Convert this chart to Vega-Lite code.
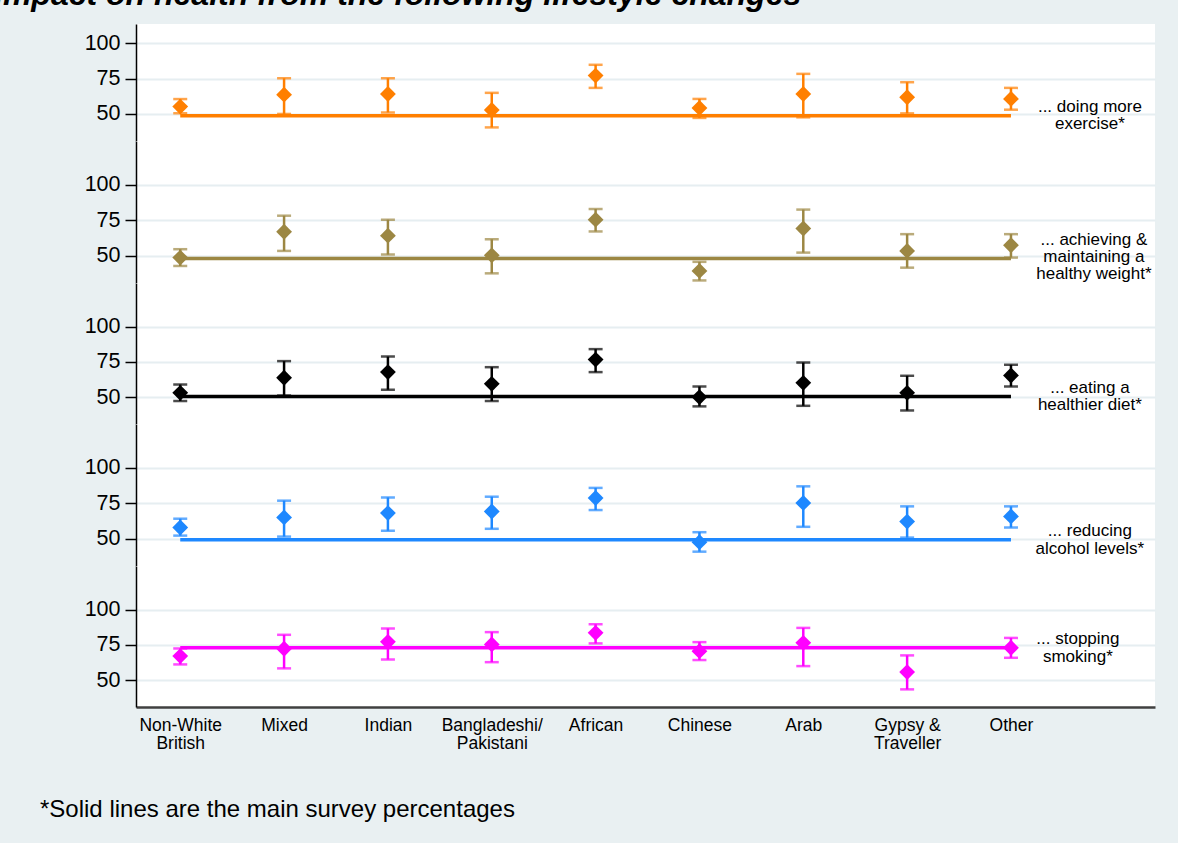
{
"$schema": "https://vega.github.io/schema/vega-lite/v6.json",
"background": "#e9f0f2",
"padding": {"left": -6, "top": -21, "right": 40, "bottom": 60},
"title": {"text": "Impact on health from the following lifestyle changes", "anchor": "start", "frame": "group", "dx": -142, "dy": 34, "offset": 21, "baseline": "alphabetic", "font": "Liberation Sans", "fontSize": 32, "fontWeight": "bold", "fontStyle": "italic", "color": "#000000"},
"spacing": 0,
"bounds": "flush",
"datasets": {
"pts": [
{"m":"ex","cat":1,"v":55.2,"lo":50.5,"hi":60.5},
{"m":"ex","cat":2,"v":63.6,"lo":50,"hi":75.2},
{"m":"ex","cat":3,"v":64.1,"lo":51.1,"hi":75.2},
{"m":"ex","cat":4,"v":52.8,"lo":40.5,"hi":64.9},
{"m":"ex","cat":5,"v":77.1,"lo":68.4,"hi":84.7},
{"m":"ex","cat":6,"v":54.2,"lo":47.2,"hi":60.6},
{"m":"ex","cat":7,"v":64.1,"lo":47.6,"hi":78.3},
{"m":"ex","cat":8,"v":61.8,"lo":50.4,"hi":72.4},
{"m":"ex","cat":9,"v":60.6,"lo":53,"hi":68.4},
{"m":"wt","cat":1,"v":48.8,"lo":42.9,"hi":54.7},
{"m":"wt","cat":2,"v":67,"lo":53.5,"hi":78.3},
{"m":"wt","cat":3,"v":64.2,"lo":50.9,"hi":75.5},
{"m":"wt","cat":4,"v":50.4,"lo":37.7,"hi":61.7},
{"m":"wt","cat":5,"v":75.5,"lo":67.2,"hi":83},
{"m":"wt","cat":6,"v":39.4,"lo":32.7,"hi":45.8},
{"m":"wt","cat":7,"v":69.3,"lo":52.3,"hi":82.6},
{"m":"wt","cat":8,"v":53.5,"lo":41.7,"hi":65.3},
{"m":"wt","cat":9,"v":57.5,"lo":48.8,"hi":65.3},
{"m":"diet","cat":1,"v":53,"lo":47.2,"hi":58.9},
{"m":"diet","cat":2,"v":63.7,"lo":51.1,"hi":75.5},
{"m":"diet","cat":3,"v":67.7,"lo":55.2,"hi":78.7},
{"m":"diet","cat":4,"v":59.4,"lo":47.2,"hi":71.2},
{"m":"diet","cat":5,"v":76.6,"lo":67.7,"hi":84},
{"m":"diet","cat":6,"v":50,"lo":43.4,"hi":57.5},
{"m":"diet","cat":7,"v":60.1,"lo":43.8,"hi":74.5},
{"m":"diet","cat":8,"v":53,"lo":40.5,"hi":65.1},
{"m":"diet","cat":9,"v":65.3,"lo":57.5,"hi":72.9},
{"m":"alc","cat":1,"v":58,"lo":52.3,"hi":64.2},
{"m":"alc","cat":2,"v":65.1,"lo":51.6,"hi":76.9},
{"m":"alc","cat":3,"v":68.2,"lo":55.7,"hi":79.2},
{"m":"alc","cat":4,"v":69.3,"lo":57.1,"hi":79.7},
{"m":"alc","cat":5,"v":78.8,"lo":70.3,"hi":85.9},
{"m":"alc","cat":6,"v":47.7,"lo":41,"hi":54.7},
{"m":"alc","cat":7,"v":75.3,"lo":58.5,"hi":87},
{"m":"alc","cat":8,"v":62.2,"lo":50.9,"hi":72.9},
{"m":"alc","cat":9,"v":65.8,"lo":58,"hi":72.9},
{"m":"smk","cat":1,"v":67,"lo":61.1,"hi":72.4},
{"m":"smk","cat":2,"v":72.2,"lo":58.3,"hi":82.1},
{"m":"smk","cat":3,"v":77.1,"lo":64.6,"hi":86.6},
{"m":"smk","cat":4,"v":75.3,"lo":62.7,"hi":84},
{"m":"smk","cat":5,"v":83.5,"lo":76,"hi":89.6},
{"m":"smk","cat":6,"v":70.5,"lo":64.2,"hi":76.9},
{"m":"smk","cat":7,"v":76.4,"lo":59.9,"hi":87},
{"m":"smk","cat":8,"v":55.7,"lo":43.4,"hi":67.5},
{"m":"smk","cat":9,"v":72.9,"lo":65.8,"hi":79.9}
],
"base": [
{"m":"ex","pct":48.8,"label":"... doing more|exercise*"},
{"m":"wt","pct":48.1,"label":"... achieving &|maintaining a|healthy weight*"},
{"m":"diet","pct":50.4,"label":"... eating a|healthier diet*"},
{"m":"alc","pct":49.3,"label":"... reducing|alcohol levels*"},
{"m":"smk","pct":72.9,"label":"... stopping|smoking*"}
]
},
"vconcat": [
{
"width": 1019, "height": 117,
"layer": [
{"data":{"name":"base"},"transform":[{"filter":"datum.m === 'ex'"}],"mark":{"type":"rule","color":"#ff7f00","strokeWidth":3.5},
"encoding":{"x":{"datum":1,"type":"quantitative","scale":{"domain":[0.574,10.387],"nice":false,"zero":false},"axis":null},"x2":{"datum":9},"y":{"field":"pct","type":"quantitative","scale":{"domain":[30.9,113.5],"nice":false,"zero":false},"axis":{"values":[50,75,100],"title":null}}}},
{"data":{"name":"pts"},"transform":[{"filter":"datum.m === 'ex'"}],"mark":{"type":"errorbar","color":"#ff7f00","ticks":{"size":14,"thickness":2.5,"color":"#ff7f00"},"rule":{"strokeWidth":2.5,"color":"#ff7f00"}},
"encoding":{"x":{"field":"cat","type":"quantitative","scale":{"domain":[0.574,10.387],"nice":false,"zero":false},"axis":null},"y":{"field":"lo","type":"quantitative","scale":{"domain":[30.9,113.5],"nice":false,"zero":false},"axis":{"values":[50,75,100],"title":null}},"y2":{"field":"hi"}}},
{"data":{"name":"pts"},"transform":[{"filter":"datum.m === 'ex'"}],"mark":{"type":"point","shape":"diamond","filled":true,"size":250,"opacity":1,"color":"#ff7f00"},
"encoding":{"x":{"field":"cat","type":"quantitative","scale":{"domain":[0.574,10.387],"nice":false,"zero":false},"axis":null},"y":{"field":"v","type":"quantitative","scale":{"domain":[30.9,113.5],"nice":false,"zero":false},"axis":{"values":[50,75,100],"title":null}}}},
{"data":{"name":"base"},"transform":[{"filter":"datum.m === 'ex'"}],"mark":{"type":"text","lineBreak":"|","align":"center","baseline":"middle","dy":-8.75,"font":"Liberation Sans","fontSize":17,"lineHeight":17.5,"color":"#000000"},
"encoding":{"x":{"datum":9.76,"type":"quantitative","scale":{"domain":[0.574,10.387],"nice":false,"zero":false},"axis":null},"y":{"field":"pct","type":"quantitative","scale":{"domain":[30.9,113.5],"nice":false,"zero":false},"axis":{"values":[50,75,100],"title":null}},"text":{"field":"label","type":"nominal"}}}
]
},
{
"width": 1019, "height": 142,
"layer": [
{"data":{"name":"base"},"transform":[{"filter":"datum.m === 'wt'"}],"mark":{"type":"rule","color":"#9c8743","strokeWidth":3.5},
"encoding":{"x":{"datum":1,"type":"quantitative","scale":{"domain":[0.574,10.387],"nice":false,"zero":false},"axis":null},"x2":{"datum":9},"y":{"field":"pct","type":"quantitative","scale":{"domain":[30.9,130.9],"nice":false,"zero":false},"axis":{"values":[50,75,100],"title":null}}}},
{"data":{"name":"pts"},"transform":[{"filter":"datum.m === 'wt'"}],"mark":{"type":"errorbar","color":"#9c8743","ticks":{"size":14,"thickness":2.5,"color":"#9c8743"},"rule":{"strokeWidth":2.5,"color":"#9c8743"}},
"encoding":{"x":{"field":"cat","type":"quantitative","scale":{"domain":[0.574,10.387],"nice":false,"zero":false},"axis":null},"y":{"field":"lo","type":"quantitative","scale":{"domain":[30.9,130.9],"nice":false,"zero":false},"axis":{"values":[50,75,100],"title":null}},"y2":{"field":"hi"}}},
{"data":{"name":"pts"},"transform":[{"filter":"datum.m === 'wt'"}],"mark":{"type":"point","shape":"diamond","filled":true,"size":250,"opacity":1,"color":"#9c8743"},
"encoding":{"x":{"field":"cat","type":"quantitative","scale":{"domain":[0.574,10.387],"nice":false,"zero":false},"axis":null},"y":{"field":"v","type":"quantitative","scale":{"domain":[30.9,130.9],"nice":false,"zero":false},"axis":{"values":[50,75,100],"title":null}}}},
{"data":{"name":"base"},"transform":[{"filter":"datum.m === 'wt'"}],"mark":{"type":"text","lineBreak":"|","align":"center","baseline":"middle","dy":-19,"dx":4,"font":"Liberation Sans","fontSize":17,"lineHeight":17,"color":"#000000"},
"encoding":{"x":{"datum":9.76,"type":"quantitative","scale":{"domain":[0.574,10.387],"nice":false,"zero":false},"axis":null},"y":{"field":"pct","type":"quantitative","scale":{"domain":[30.9,130.9],"nice":false,"zero":false},"axis":{"values":[50,75,100],"title":null}},"text":{"field":"label","type":"nominal"}}}
]
},
{
"width": 1019, "height": 141,
"layer": [
{"data":{"name":"base"},"transform":[{"filter":"datum.m === 'diet'"}],"mark":{"type":"rule","color":"#000000","strokeWidth":3.5},
"encoding":{"x":{"datum":1,"type":"quantitative","scale":{"domain":[0.574,10.387],"nice":false,"zero":false},"axis":null},"x2":{"datum":9},"y":{"field":"pct","type":"quantitative","scale":{"domain":[30.9,130.9],"nice":false,"zero":false},"axis":{"values":[50,75,100],"title":null}}}},
{"data":{"name":"pts"},"transform":[{"filter":"datum.m === 'diet'"}],"mark":{"type":"errorbar","color":"#000000","ticks":{"size":14,"thickness":2.5,"color":"#000000"},"rule":{"strokeWidth":2.5,"color":"#000000"}},
"encoding":{"x":{"field":"cat","type":"quantitative","scale":{"domain":[0.574,10.387],"nice":false,"zero":false},"axis":null},"y":{"field":"lo","type":"quantitative","scale":{"domain":[30.9,130.9],"nice":false,"zero":false},"axis":{"values":[50,75,100],"title":null}},"y2":{"field":"hi"}}},
{"data":{"name":"pts"},"transform":[{"filter":"datum.m === 'diet'"}],"mark":{"type":"point","shape":"diamond","filled":true,"size":250,"opacity":1,"color":"#000000"},
"encoding":{"x":{"field":"cat","type":"quantitative","scale":{"domain":[0.574,10.387],"nice":false,"zero":false},"axis":null},"y":{"field":"v","type":"quantitative","scale":{"domain":[30.9,130.9],"nice":false,"zero":false},"axis":{"values":[50,75,100],"title":null}}}},
{"data":{"name":"base"},"transform":[{"filter":"datum.m === 'diet'"}],"mark":{"type":"text","lineBreak":"|","align":"center","baseline":"middle","dy":-8.75,"font":"Liberation Sans","fontSize":17,"lineHeight":17.5,"color":"#000000"},
"encoding":{"x":{"datum":9.76,"type":"quantitative","scale":{"domain":[0.574,10.387],"nice":false,"zero":false},"axis":null},"y":{"field":"pct","type":"quantitative","scale":{"domain":[30.9,130.9],"nice":false,"zero":false},"axis":{"values":[50,75,100],"title":null}},"text":{"field":"label","type":"nominal"}}}
]
},
{
"width": 1019, "height": 142,
"layer": [
{"data":{"name":"base"},"transform":[{"filter":"datum.m === 'alc'"}],"mark":{"type":"rule","color":"#1e88ff","strokeWidth":3.5},
"encoding":{"x":{"datum":1,"type":"quantitative","scale":{"domain":[0.574,10.387],"nice":false,"zero":false},"axis":null},"x2":{"datum":9},"y":{"field":"pct","type":"quantitative","scale":{"domain":[30.9,130.9],"nice":false,"zero":false},"axis":{"values":[50,75,100],"title":null}}}},
{"data":{"name":"pts"},"transform":[{"filter":"datum.m === 'alc'"}],"mark":{"type":"errorbar","color":"#1e88ff","ticks":{"size":14,"thickness":2.5,"color":"#1e88ff"},"rule":{"strokeWidth":2.5,"color":"#1e88ff"}},
"encoding":{"x":{"field":"cat","type":"quantitative","scale":{"domain":[0.574,10.387],"nice":false,"zero":false},"axis":null},"y":{"field":"lo","type":"quantitative","scale":{"domain":[30.9,130.9],"nice":false,"zero":false},"axis":{"values":[50,75,100],"title":null}},"y2":{"field":"hi"}}},
{"data":{"name":"pts"},"transform":[{"filter":"datum.m === 'alc'"}],"mark":{"type":"point","shape":"diamond","filled":true,"size":250,"opacity":1,"color":"#1e88ff"},
"encoding":{"x":{"field":"cat","type":"quantitative","scale":{"domain":[0.574,10.387],"nice":false,"zero":false},"axis":null},"y":{"field":"v","type":"quantitative","scale":{"domain":[30.9,130.9],"nice":false,"zero":false},"axis":{"values":[50,75,100],"title":null}}}},
{"data":{"name":"base"},"transform":[{"filter":"datum.m === 'alc'"}],"mark":{"type":"text","lineBreak":"|","align":"center","baseline":"middle","dy":-8.75,"font":"Liberation Sans","fontSize":17,"lineHeight":17.5,"color":"#000000"},
"encoding":{"x":{"datum":9.76,"type":"quantitative","scale":{"domain":[0.574,10.387],"nice":false,"zero":false},"axis":null},"y":{"field":"pct","type":"quantitative","scale":{"domain":[30.9,130.9],"nice":false,"zero":false},"axis":{"values":[50,75,100],"title":null}},"text":{"field":"label","type":"nominal"}}}
]
},
{
"width": 1019, "height": 141,
"title": {"text": "*Solid lines are the main survey percentages", "orient": "bottom", "anchor": "start", "frame": "group", "dx": -96, "offset": 46, "baseline": "top", "font": "Liberation Sans", "fontSize": 24, "fontWeight": "normal", "color": "#000000"},
"layer": [
{"data":{"name":"base"},"transform":[{"filter":"datum.m === 'smk'"}],"mark":{"type":"rule","color":"#ff00ff","strokeWidth":3.5},
"encoding":{"x":{"datum":1,"type":"quantitative","scale":{"domain":[0.574,10.387],"nice":false,"zero":false},"axis":{"values":[1,2,3,4,5,6,7,8,9],"title":null,"labelExpr":"split(['Non-White|British','Mixed','Indian','Bangladeshi/|Pakistani','African','Chinese','Arab','Gypsy &|Traveller','Other'][datum.value - 1], '|')","labelOverlap":false,"labelBound":false,"labelFlush":false}},"x2":{"datum":9},"y":{"field":"pct","type":"quantitative","scale":{"domain":[30.9,130.9],"nice":false,"zero":false},"axis":{"values":[50,75,100],"title":null}}}},
{"data":{"name":"pts"},"transform":[{"filter":"datum.m === 'smk'"}],"mark":{"type":"errorbar","color":"#ff00ff","ticks":{"size":14,"thickness":2.5,"color":"#ff00ff"},"rule":{"strokeWidth":2.5,"color":"#ff00ff"}},
"encoding":{"x":{"field":"cat","type":"quantitative","scale":{"domain":[0.574,10.387],"nice":false,"zero":false},"axis":{"values":[1,2,3,4,5,6,7,8,9],"title":null,"labelExpr":"split(['Non-White|British','Mixed','Indian','Bangladeshi/|Pakistani','African','Chinese','Arab','Gypsy &|Traveller','Other'][datum.value - 1], '|')","labelOverlap":false,"labelBound":false,"labelFlush":false}},"y":{"field":"lo","type":"quantitative","scale":{"domain":[30.9,130.9],"nice":false,"zero":false},"axis":{"values":[50,75,100],"title":null}},"y2":{"field":"hi"}}},
{"data":{"name":"pts"},"transform":[{"filter":"datum.m === 'smk'"}],"mark":{"type":"point","shape":"diamond","filled":true,"size":250,"opacity":1,"color":"#ff00ff"},
"encoding":{"x":{"field":"cat","type":"quantitative","scale":{"domain":[0.574,10.387],"nice":false,"zero":false},"axis":{"values":[1,2,3,4,5,6,7,8,9],"title":null,"labelExpr":"split(['Non-White|British','Mixed','Indian','Bangladeshi/|Pakistani','African','Chinese','Arab','Gypsy &|Traveller','Other'][datum.value - 1], '|')","labelOverlap":false,"labelBound":false,"labelFlush":false}},"y":{"field":"v","type":"quantitative","scale":{"domain":[30.9,130.9],"nice":false,"zero":false},"axis":{"values":[50,75,100],"title":null}}}},
{"data":{"name":"base"},"transform":[{"filter":"datum.m === 'smk'"}],"mark":{"type":"text","lineBreak":"|","align":"center","baseline":"middle","dy":-8.75,"dx":-12,"font":"Liberation Sans","fontSize":17,"lineHeight":17.5,"color":"#000000"},
"encoding":{"x":{"datum":9.76,"type":"quantitative","scale":{"domain":[0.574,10.387],"nice":false,"zero":false},"axis":{"values":[1,2,3,4,5,6,7,8,9],"title":null,"labelExpr":"split(['Non-White|British','Mixed','Indian','Bangladeshi/|Pakistani','African','Chinese','Arab','Gypsy &|Traveller','Other'][datum.value - 1], '|')","labelOverlap":false,"labelBound":false,"labelFlush":false}},"y":{"field":"pct","type":"quantitative","scale":{"domain":[30.9,130.9],"nice":false,"zero":false},"axis":{"values":[50,75,100],"title":null}},"text":{"field":"label","type":"nominal"}}}
]
}
],
"config": {
"view": {"fill": "#ffffff", "stroke": null},
"axisY": {"grid": true, "gridColor": "#e6eef1", "gridWidth": 2, "domainColor": "#000000", "domainWidth": 1.5, "tickColor": "#000000", "tickSize": 11, "tickWidth": 1.5, "labelFont": "Liberation Sans", "labelFontSize": 21.5, "labelColor": "#000000", "labelPadding": 5},
"axisX": {"grid": false, "domainColor": "#404040", "domainWidth": 2.5, "ticks": false, "tickSize": 0, "labelFont": "Liberation Sans", "labelFontSize": 17.5, "labelColor": "#000000", "labelPadding": 9, "labelLineHeight": 18, "labelBaseline": "top"}
}
}
